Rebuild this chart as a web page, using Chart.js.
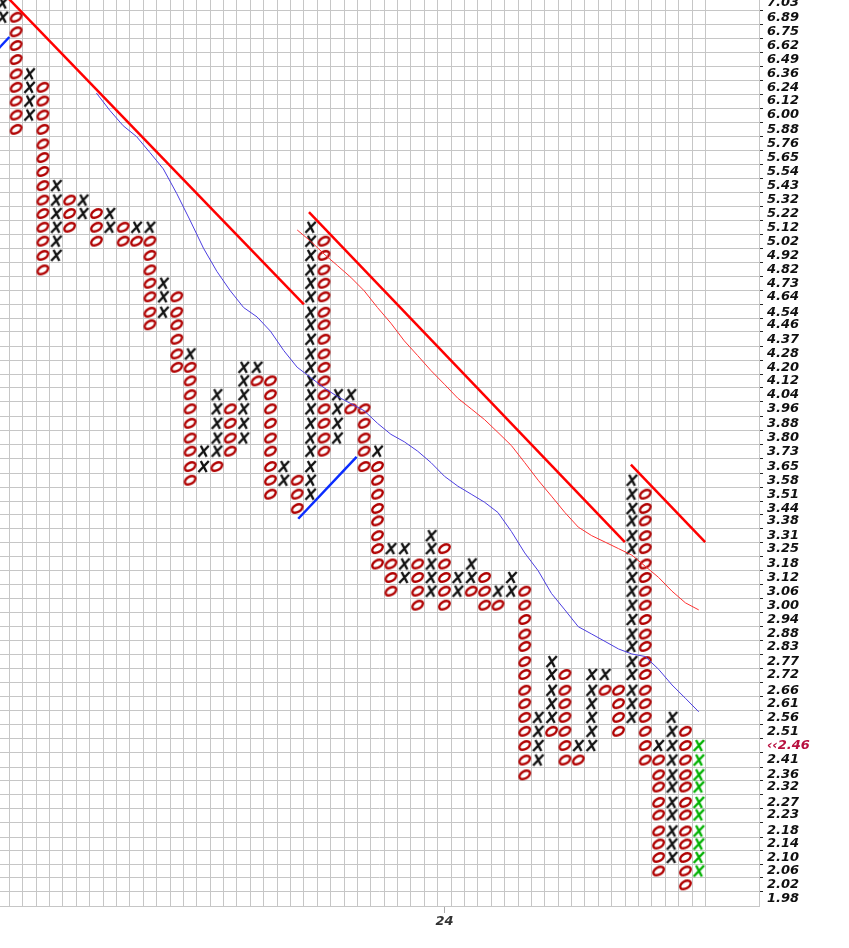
<!DOCTYPE html>
<html>
<head>
<meta charset="utf-8">
<script src="https://cdn.jsdelivr.net/npm/chart.js@4.4.1/dist/chart.umd.min.js"></script>
<style>
    html, body { margin: 0; padding: 0; background: #fff; }
    canvas { display: block; }
</style>
</head>
<body>
<canvas id="pnf" width="849" height="948"></canvas>
<script>
// Box levels, top to bottom (right hand axis)
const boxes = [7.03, 6.89, 6.75, 6.62, 6.49, 6.36, 6.24, 6.12, 6.00, 5.88, 5.76, 5.65, 5.54, 5.43, 5.32, 5.22,
    5.12, 5.02, 4.92, 4.82, 4.73, 4.64, 4.54, 4.46, 4.37, 4.28, 4.20, 4.12, 4.04, 3.96, 3.88, 3.80, 3.73, 3.65,
    3.58, 3.51, 3.44, 3.38, 3.31, 3.25, 3.18, 3.12, 3.06, 3.00, 2.94, 2.88, 2.83, 2.77, 2.72, 2.66, 2.61, 2.56,
    2.51, 2.46, 2.41, 2.36, 2.32, 2.27, 2.23, 2.18, 2.14, 2.10, 2.06, 2.02, 1.98];
const lastPrice = 2.46;

// date marker under the columns
const dateCols = [33];
const dateLabels = ['24'];

// one entry per column: top box and the marks from the top down
const colTop = [7.03, 6.89, 6.36, 6.24, 5.43, 5.32, 5.32, 5.22, 5.22, 5.12, 5.12, 5.12, 4.73, 4.64, 4.28, 3.73,
    4.04, 3.96, 4.20, 4.20, 4.12, 3.65, 3.58, 5.12, 5.02, 4.04, 4.04, 3.96, 3.73, 3.25, 3.25, 3.18, 3.31, 3.25,
    3.12, 3.18, 3.12, 3.06, 3.12, 3.06, 2.56, 2.77, 2.72, 2.46, 2.72, 2.72, 2.66, 3.58, 3.51, 2.46, 2.56, 2.51,
    2.46];
const colMarks = [
    'XX', 'OOOOOOOOO', 'XXXX', 'OOOOOOOOOOOOOO', 'XXXXXX', 'OOO', 'XX', 'OOO', 'XX', 'OO', 'XO',
    'XOOOOOOO', 'XXX', 'OOOOOO', 'XOOOOOOOOO', 'XX', 'XXXXXO', 'OOOO', 'XXXXXX', 'XO', 'OOOOOOOOO',
    'XX', 'OOO', 'XXXXXXXXXXXXXXXXXXXX', 'OOOOOOOOOOOOOOOO', 'XXXX', 'XO', 'OOOOO', 'XOOOOOOOO',
    'XOOO', 'XXX', 'OOOO', 'XXXXX', 'OOOOO', 'XX', 'XXO', 'OOO', 'XO', 'XX', 'OOOOOOOOOOOOOO',
    'XXXX', 'XXXXXO', 'OOOOOOO', 'XO', 'XXXXXX', 'XO', 'OOOO', 'XXXXXXXXXXXXXXXXXX',
    'OOOOOOOOOOOOOOOOOOOO', 'XOOOOOOOOO', 'XXXXXXXXXXX', 'OOOOOOOOOOOO', 'XXXXXXXXXX'
];

// moving averages, one value per column from the given column on
const maSlowFrom = 7;
const maSlow = [6.19, 6.04, 5.91, 5.82, 5.69, 5.56, 5.37, 5.17, 4.97, 4.81, 4.68, 4.57, 4.51, 4.42, 4.30,
    4.20, 4.14, 4.08, 4.03, 3.99, 3.95, 3.88, 3.82, 3.78, 3.73, 3.67, 3.60, 3.55, 3.51, 3.47, 3.42, 3.33,
    3.23, 3.15, 3.05, 2.98, 2.91, 2.88, 2.85, 2.82, 2.80, 2.79, 2.74, 2.68, 2.63, 2.58];
const maFastFrom = 22;
const maFast = [5.10, 5.02, 4.93, 4.85, 4.77, 4.68, 4.57, 4.47, 4.36, 4.27, 4.18, 4.10, 4.02, 3.96, 3.90,
    3.83, 3.76, 3.67, 3.58, 3.50, 3.42, 3.35, 3.31, 3.28, 3.25, 3.22, 3.17, 3.12, 3.06, 3.01, 2.98];

// trend lines, [column, price] at both ends
const resistance = [
    [[-0.24, 7.17], [22.5, 4.59]],
    [[22.88, 5.23], [46.48, 3.28]],
    [[46.93, 3.66], [52.48, 3.28]]
];
const support = [
    [[-1, 6.50], [0.5, 6.70]],
    [[22.08, 3.39], [26.44, 3.70]]
];

const font = { family: '"DejaVu Sans"', size: 13, style: 'italic', weight: 'bold' };

function glyph (draw) {
    const c = document.createElement('canvas');
    c.width = 15;
    c.height = 15;
    draw(c.getContext('2d'));
    return c;
}

const cross = color => glyph(ctx => {
    ctx.strokeStyle = color;
    ctx.lineWidth = 2.4;
    ctx.beginPath();
    ctx.moveTo(4.8, 2);
    ctx.lineTo(10.6, 13);
    ctx.moveTo(12.8, 2);
    ctx.lineTo(2.4, 13);
    ctx.stroke();
});
const ring = glyph(ctx => {
    ctx.strokeStyle = '#b00000';
    ctx.lineWidth = 2.4;
    ctx.beginPath();
    ctx.ellipse(7.5, 7.5, 5.8, 3.6, -0.55, 0, Math.PI * 2);
    ctx.stroke();
});

const xs = [], os = [], live = [];
colMarks.forEach((marks, col) => {
    const top = boxes.indexOf(colTop[col]);
    [...marks].forEach((m, j) => {
        const pt = { x: col, y: boxes[top + j] };
        if (m === 'O') os.push(pt);
        else if (col === colMarks.length - 1) live.push(pt);
        else xs.push(pt);
    });
});

const line = (data, color, width) => ({
    data: data,
    showLine: true,
    borderColor: color,
    borderWidth: width,
    pointRadius: 0,
    fill: false
});

const datasets = [];
resistance.forEach(r => datasets.push(line(r.map(p => ({ x: p[0], y: p[1] })), '#ff0000', 2.5)));
support.forEach(s => datasets.push(line(s.map(p => ({ x: p[0], y: p[1] })), '#0a2cff', 2.5)));
datasets.push(line(maFast.map((v, i) => ({ x: maFastFrom + i, y: v })), '#ff3030', 1));
datasets.push(line(maSlow.map((v, i) => ({ x: maSlowFrom + i, y: v })), '#4b3de0', 1));

const marks = (data, img) => ({ data: data, pointStyle: img, pointRadius: 6, showLine: false });
datasets.push(marks(xs, cross('#111111')));
datasets.push(marks(live, cross('#00b000')));
datasets.push(marks(os, ring));

const yMin = 1.9605, yMax = 7.06;
const noPad = scale => { scale.paddingTop = 0; scale.paddingBottom = 0; scale.paddingLeft = 0; scale.paddingRight = 0; };

new Chart(document.getElementById('pnf'), {
    type: 'scatter',
    data: { datasets },
    options: {
        responsive: false,
        animation: false,
        events: [],
        layout: { padding: 0, autoPadding: false },
        plugins: { legend: { display: false }, tooltip: { enabled: false } },
        scales: {
            x: {
                type: 'linear',
                position: 'bottom',
                weight: 0,
                min: -0.2,
                max: 56.5,
                bounds: 'data',
                afterBuildTicks: scale => {
                    scale.ticks = colMarks.map((m, i) => ({ value: i + 0.5 }));
                },
                ticks: { display: false },
                grid: { color: '#c6c6c6', drawTicks: false },
                border: { color: '#c6c6c6' },
                afterFit: scale => { scale.height = 0; noPad(scale); }
            },
            xl: {
                type: 'linear',
                position: 'bottom',
                weight: 1,
                min: -0.2,
                max: 56.5,
                bounds: 'data',
                afterBuildTicks: scale => {
                    scale.ticks = dateCols.map(v => ({ value: v }));
                },
                ticks: {
                    autoSkip: false,
                    maxRotation: 0,
                    padding: 1,
                    color: '#333',
                    font: font,
                    callback: (v, i) => dateLabels[i]
                },
                grid: { drawOnChartArea: false, tickLength: 7, tickColor: '#aaaaaa' },
                border: { display: false },
                afterFit: scale => { scale.height = 42; noPad(scale); }
            },
            y: {
                type: 'logarithmic',
                position: 'right',
                weight: 0,
                min: yMin,
                max: yMax,
                bounds: 'data',
                afterBuildTicks: scale => {
                    scale.ticks = boxes.slice(1).map((b, i) => ({ value: Math.sqrt(b * boxes[i]) }));
                },
                ticks: { display: false },
                grid: { color: '#c6c6c6', tickLength: 4, tickColor: '#222' },
                border: { color: '#c6c6c6' },
                afterFit: scale => { scale.width = 4; noPad(scale); }
            },
            yl: {
                type: 'logarithmic',
                position: 'right',
                weight: 1,
                min: yMin,
                max: yMax,
                bounds: 'data',
                afterBuildTicks: scale => {
                    scale.ticks = boxes.map(b => ({ value: b }));
                },
                ticks: {
                    autoSkip: false,
                    padding: 4,
                    font: font,
                    color: ctx => ctx.tick && ctx.tick.value === lastPrice ? '#b8103f' : '#111',
                    callback: (v, i) => (boxes[i] === lastPrice ? '\u2039\u2039' : '') + boxes[i].toFixed(2)
                },
                grid: { display: false, drawTicks: false },
                border: { display: false },
                afterFit: scale => { scale.width = 86; noPad(scale); }
            }
        }
    }
});
</script>
</body>
</html>
